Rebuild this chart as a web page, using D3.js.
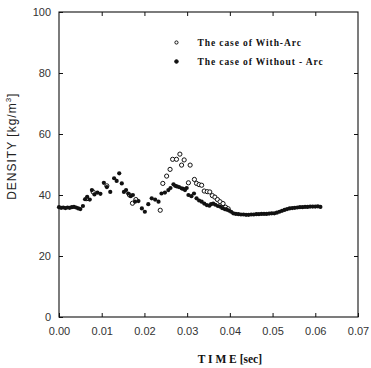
<!DOCTYPE html>
<html>
<head>
<meta charset="utf-8">
<script src="https://cdn.jsdelivr.net/npm/d3@7"></script>
<style>
  body { margin: 0; background: #fff; }
</style>
</head>
<body>
<div id="chart"></div>
<script>
// without-arc (filled dots)
const timeWithout = [0.0000, 0.0005, 0.0010, 0.0015, 0.0020, 0.0025, 0.0030, 0.0035, 0.0040, 0.0045, 0.0050,
  0.0056, 0.0061, 0.0066, 0.0072, 0.0077, 0.0083, 0.0090, 0.0097, 0.0105, 0.0112, 0.0120, 0.0129, 0.0135,
  0.0141, 0.0147, 0.0152, 0.0157, 0.0162, 0.0168, 0.0173, 0.0178, 0.0186, 0.0194, 0.0201, 0.0209, 0.0217,
  0.0225, 0.0233, 0.0240, 0.0248, 0.0256, 0.0261, 0.0268, 0.0272, 0.0276, 0.0281, 0.0287, 0.0291, 0.0295,
  0.0299, 0.0303, 0.0310, 0.0316, 0.0322, 0.0328, 0.0334, 0.0340, 0.0346, 0.0352, 0.0356, 0.0361, 0.0366,
  0.0372, 0.0377, 0.0382, 0.0388, 0.0393, 0.0398, 0.0403, 0.0408, 0.0414, 0.0420, 0.0426, 0.0432, 0.0438,
  0.0444, 0.0450, 0.0456, 0.0462, 0.0468, 0.0474, 0.0480, 0.0486, 0.0492, 0.0498, 0.0504, 0.0510, 0.0516,
  0.0522, 0.0528, 0.0534, 0.0540, 0.0546, 0.0552, 0.0558, 0.0564, 0.0570, 0.0576, 0.0582, 0.0588, 0.0594,
  0.0600, 0.0606, 0.0612];
const densityWithout = [36.0, 35.8, 35.9, 35.7, 35.9, 35.8, 36.0, 36.1, 35.9, 35.6, 35.4,
  36.4, 38.6, 39.4, 38.5, 41.6, 40.2, 40.8, 40.4, 44.0, 42.6, 41.0, 45.5, 44.6,
  47.1, 43.8, 41.0, 41.6, 40.5, 39.6, 40.0, 37.8, 38.0, 35.6, 34.5, 37.0, 38.9,
  38.5, 37.8, 40.5, 40.8, 41.6, 42.3, 43.5, 43.0, 42.8, 42.6, 42.2, 42.0, 41.6,
  42.3, 40.0, 39.6, 40.5, 38.9, 38.2, 37.8, 37.2, 36.7, 36.5, 37.0, 37.2, 36.8,
  36.4, 36.2, 35.7, 35.4, 35.2, 34.9, 34.5, 34.0, 33.8, 33.7, 33.6, 33.6, 33.5,
  33.5, 33.6, 33.6, 33.7, 33.7, 33.8, 33.8, 33.8, 33.9, 34.0, 34.0, 34.2, 34.5,
  34.8, 35.1, 35.4, 35.6, 35.7, 35.8, 35.9, 36.0, 36.0, 36.1, 36.1, 36.2, 36.2,
  36.2, 36.3, 36.1];

// with-arc (open circles)
const timeWith = [0.0065, 0.0080, 0.0112, 0.0165, 0.0172, 0.0180, 0.0237, 0.0243, 0.0252, 0.0260,
  0.0266, 0.0275, 0.0283, 0.0287, 0.0293, 0.0303, 0.0307, 0.0317, 0.0322, 0.0328, 0.0334, 0.0340,
  0.0347, 0.0353, 0.0359, 0.0365, 0.0371, 0.0377, 0.0384, 0.0390, 0.0396];
const densityWith = [38.8, 41.0, 43.0, 40.0, 37.3, 38.5, 35.0, 43.8, 46.2, 48.4,
  51.7, 51.7, 53.4, 49.8, 51.5, 44.0, 49.8, 45.1, 43.8, 43.4, 43.2, 41.3,
  41.1, 41.0, 39.8, 39.3, 38.5, 37.8, 37.2, 36.0, 35.5];

const xTicks = [0, 0.01, 0.02, 0.03, 0.04, 0.05, 0.06, 0.07];
const yTicks = [0, 20, 40, 60, 80, 100];
const legendLabels = ["The case of With-Arc", "The case of Without - Arc"];

const W = 371, H = 368;
const margin = {top: 12, right: 13, bottom: 51, left: 59};
const width = W - margin.left - margin.right;
const height = H - margin.top - margin.bottom;

const svg = d3.select("#chart")
  .append("svg")
  .attr("width", W)
  .attr("height", H)
  .append("g")
  .attr("transform", `translate(${margin.left},${margin.top})`);

const x = d3.scaleLinear().domain([0, 0.07]).range([0, width]);
const y = d3.scaleLinear().domain([0, 100]).range([height, 0]);

const tickFont = "'Liberation Sans', Arial, sans-serif";

// frame
svg.append("rect")
  .attr("width", width)
  .attr("height", height)
  .attr("fill", "none")
  .attr("stroke", "#111")
  .attr("stroke-width", 1.1);

// bottom axis
const xAxis = svg.append("g")
  .attr("transform", `translate(0,${height})`)
  .call(d3.axisBottom(x).tickValues(xTicks).tickSize(-4).tickPadding(10).tickFormat(d3.format(".2f")));
xAxis.select(".domain").remove();

// top ticks
const xTop = svg.append("g")
  .call(d3.axisTop(x).tickValues(xTicks.slice(1, -1)).tickSize(-4).tickFormat(""));
xTop.select(".domain").remove();

// left axis
const yAxis = svg.append("g")
  .call(d3.axisLeft(y).tickValues(yTicks).tickSize(-4).tickPadding(8));
yAxis.select(".domain").remove();

// right ticks
const yRight = svg.append("g")
  .attr("transform", `translate(${width},0)`)
  .call(d3.axisRight(y).tickValues(yTicks.slice(1, -1)).tickSize(-4).tickFormat(""));
yRight.select(".domain").remove();

svg.selectAll(".tick line").attr("stroke", "#111");
svg.selectAll(".tick text")
  .attr("font-family", tickFont)
  .attr("font-size", "11px")
  .attr("fill", "#333");

// axis titles
svg.append("text")
  .attr("x", x(0.04))
  .attr("y", height + 46)
  .attr("text-anchor", "middle")
  .attr("font-family", "'Liberation Serif', serif")
  .attr("font-weight", 700)
  .attr("font-size", "11.5px")
  .attr("fill", "#111")
  .text("T I M E [sec]");

svg.append("text")
  .attr("transform", "rotate(-90)")
  .attr("x", -y(56))
  .attr("y", -43)
  .attr("text-anchor", "middle")
  .attr("font-family", tickFont)
  .attr("font-size", "12px")
  .attr("letter-spacing", "1px")
  .attr("fill", "#222")
  .html("DENSITY [kg/m<tspan dy='-5' font-size='8px'>3</tspan><tspan dy='5'>]</tspan>");

// with-arc open circles
svg.append("g").selectAll("circle")
  .data(timeWith.map((t, i) => [t, densityWith[i]]))
  .join("circle")
  .attr("cx", d => x(d[0]))
  .attr("cy", d => y(d[1]))
  .attr("r", 2.1)
  .attr("fill", "#fff")
  .attr("stroke", "#111")
  .attr("stroke-width", 1);

// without-arc filled dots
svg.append("g").selectAll("circle")
  .data(timeWithout.map((t, i) => [t, densityWithout[i]]))
  .join("circle")
  .attr("cx", d => x(d[0]))
  .attr("cy", d => y(d[1]))
  .attr("r", 2.1)
  .attr("fill", "#111");

// legend
const legend = svg.append("g")
  .attr("transform", `translate(${x(0.0275)}, ${y(90)})`);

legendLabels.forEach((label, i) => {
  legend.append("circle")
    .attr("cx", 0)
    .attr("cy", i * 19)
    .attr("r", i === 0 ? 1.6 : 1.8)
    .attr("fill", i === 0 ? "#fff" : "#111")
    .attr("stroke", "#111")
    .attr("stroke-width", 1);
  legend.append("text")
    .attr("x", 21)
    .attr("y", i * 19 + 3)
    .attr("font-family", "'Liberation Serif', serif")
    .attr("font-weight", 700)
    .attr("font-size", "9.5px")
    .attr("letter-spacing", "0.9px")
    .attr("fill", "#111")
    .text(label);
});
</script>
</body>
</html>
